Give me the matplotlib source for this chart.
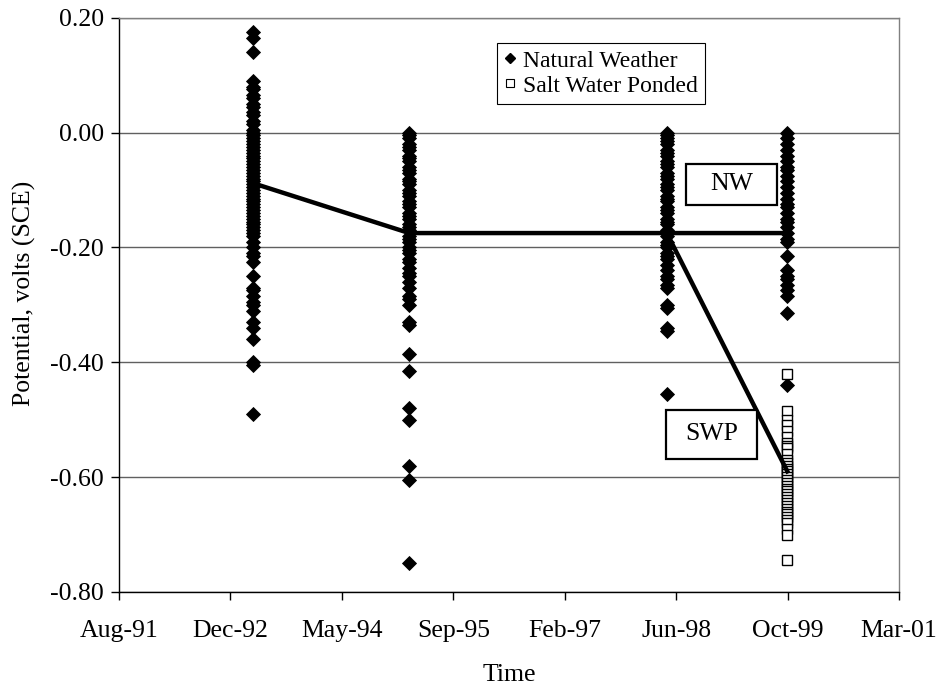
import datetime as dt
import matplotlib
matplotlib.use("Agg")
import matplotlib.pyplot as plt
import matplotlib.dates as mdates
from matplotlib.patches import Rectangle

plt.rcParams['font.family'] = ['Liberation Serif', 'DejaVu Serif']

# survey dates
survey_dates = [dt.date(1993, 4, 3), dt.date(1995, 3, 6),
                dt.date(1998, 5, 5), dt.date(1999, 10, 28)]

# Natural Weather readings, one list per survey
nw_1993 = [0.175, 0.165, 0.14, 0.09, 0.08, 0.075, 0.065, 0.06, 0.05, 0.045,
           0.035, 0.03, 0.02, 0.015, 0.005, 0.00, -0.005, -0.01, -0.015, -0.02,
           -0.025, -0.03, -0.035, -0.04, -0.045, -0.05, -0.055, -0.06, -0.065,
           -0.07, -0.075, -0.08, -0.085, -0.09, -0.095, -0.10, -0.105, -0.11,
           -0.115, -0.12, -0.125, -0.13, -0.135, -0.14, -0.145, -0.15, -0.155,
           -0.16, -0.165, -0.17, -0.175, -0.18, -0.19, -0.20, -0.21, -0.215,
           -0.225, -0.25, -0.27, -0.275, -0.285, -0.295, -0.30, -0.31, -0.33,
           -0.34, -0.36, -0.40, -0.405, -0.49]
nw_1995 = [0.00, -0.005, -0.01, -0.02, -0.025, -0.03, -0.04, -0.045, -0.05,
           -0.06, -0.065, -0.07, -0.08, -0.085, -0.09, -0.10, -0.105, -0.11,
           -0.12, -0.125, -0.13, -0.14, -0.145, -0.15, -0.16, -0.165, -0.17,
           -0.18, -0.185, -0.19, -0.20, -0.205, -0.21, -0.22, -0.225, -0.235,
           -0.245, -0.25, -0.26, -0.27, -0.285, -0.29, -0.30, -0.33, -0.335,
           -0.385, -0.415, -0.48, -0.50, -0.58, -0.605, -0.75]
nw_1998 = [0.00, -0.005, -0.01, -0.015, -0.02, -0.03, -0.035, -0.04, -0.05,
           -0.055, -0.06, -0.07, -0.075, -0.08, -0.09, -0.095, -0.10, -0.11,
           -0.115, -0.12, -0.13, -0.135, -0.14, -0.15, -0.155, -0.16, -0.17,
           -0.175, -0.18, -0.19, -0.195, -0.20, -0.21, -0.215, -0.22, -0.23,
           -0.24, -0.25, -0.255, -0.265, -0.27, -0.30, -0.305, -0.34, -0.345,
           -0.455]
nw_1999 = [0.00, -0.01, -0.02, -0.03, -0.04, -0.05, -0.06, -0.065, -0.075,
           -0.085, -0.095, -0.105, -0.115, -0.125, -0.13, -0.14, -0.15, -0.155,
           -0.165, -0.175, -0.185, -0.19, -0.215, -0.24, -0.25, -0.255, -0.265,
           -0.275, -0.285, -0.315, -0.44]
nw_values = [nw_1993, nw_1995, nw_1998, nw_1999]

# Salt Water Ponded readings (last survey only)
swp_1999 = [-0.42, -0.485, -0.50, -0.51, -0.52, -0.53, -0.54, -0.545, -0.55,
            -0.56, -0.57, -0.575, -0.58, -0.585, -0.59, -0.595, -0.60, -0.605,
            -0.61, -0.615, -0.62, -0.625, -0.63, -0.635, -0.64, -0.645, -0.65,
            -0.655, -0.66, -0.665, -0.67, -0.675, -0.68, -0.69, -0.70, -0.745]

# mean lines
nw_mean = [-0.088, -0.175, -0.175, -0.175]
swp_mean = [-0.175, -0.59]

y_ticks = [-0.80, -0.60, -0.40, -0.20, 0.00, 0.20]
y_labels = ["-0.80", "-0.60", "-0.40", "-0.20", "0.00", "0.20"]

fig = plt.figure(figsize=(9.37, 6.89), dpi=100)
W, H = 937, 689
ax = fig.add_axes([119 / W, 1 - 592 / H, (899 - 119) / W, (592 - 17.7) / H])

# x axis: Excel-style date axis, 500 day steps
x0 = mdates.date2num(dt.date(1991, 8, 12))
ax.set_xlim(x0, x0 + 3500)
ax.set_xticks([x0 + 500 * k for k in range(8)])
ax.xaxis.set_major_formatter(mdates.DateFormatter('%b-%y'))

ax.set_ylim(-0.8, 0.2)
ax.set_yticks(y_ticks)
ax.set_yticklabels(y_labels)
ax.yaxis.grid(True, color='#606060', linewidth=1.0)
ax.set_axisbelow(True)

for d, vals in zip(survey_dates, nw_values):
    ax.plot([d] * len(vals), vals, linestyle='none', marker='D', ms=6.9,
            mfc='black', mec='black', mew=0.6, zorder=3)
ax.plot([survey_dates[3]] * len(swp_1999), swp_1999, linestyle='none',
        marker='s', ms=7.4, mfc='white', mec='black', mew=1.0, zorder=4)

ax.plot(survey_dates, nw_mean, color='black', linewidth=3.2, zorder=5)
ax.plot(survey_dates[2:], swp_mean, color='black', linewidth=3.2, zorder=5)

for side in ['left', 'bottom']:
    ax.spines[side].set_color('black')
    ax.spines[side].set_linewidth(1.0)
for side in ['top', 'right']:
    ax.spines[side].set_color('#808080')
    ax.spines[side].set_linewidth(1.0)

ax.tick_params(axis='both', direction='out', length=6, width=1,
               labelsize=18.5, colors='black')
ax.tick_params(axis='x', pad=14)
ax.tick_params(axis='y', pad=5)

ax.set_xlabel('Time', fontsize=18.5, labelpad=16)
ax.set_ylabel('Potential, volts (SCE)', fontsize=18.5)
ax.yaxis.set_label_coords(-0.106, 0.52)

# legend
h1, = ax.plot([], [], linestyle='none', marker='D', ms=5, mfc='black', mec='black')
h2, = ax.plot([], [], linestyle='none', marker='s', ms=6, mfc='white', mec='black', mew=0.8)
leg = fig.legend([h1, h2], ['Natural Weather', 'Salt Water Ponded'],
                 loc='upper left', bbox_to_anchor=(497 / W, 1 - 43 / H),
                 fontsize=17, frameon=True, fancybox=False, framealpha=1,
                 borderpad=0.3, handlelength=0.5, handletextpad=0.3,
                 labelspacing=0.15, borderaxespad=0)
leg.get_frame().set_edgecolor('black')
leg.get_frame().set_linewidth(0.8)

# labelled boxes for the two mean lines
def label_box(x1, y1, x2, y2, text):
    fig.patches.append(Rectangle((x1 / W, 1 - y2 / H), (x2 - x1) / W, (y2 - y1) / H,
                                 transform=fig.transFigure, facecolor='white',
                                 edgecolor='black', linewidth=1.6, zorder=10))
    fig.text((x1 + x2) / 2 / W, 1 - (y1 + y2) / 2 / H, text, fontsize=18.5,
             ha='center', va='center', zorder=11)

label_box(686, 164, 777, 205, 'NW')
label_box(666, 410, 757, 459, 'SWP')

fig.savefig('out.png', dpi=100)
